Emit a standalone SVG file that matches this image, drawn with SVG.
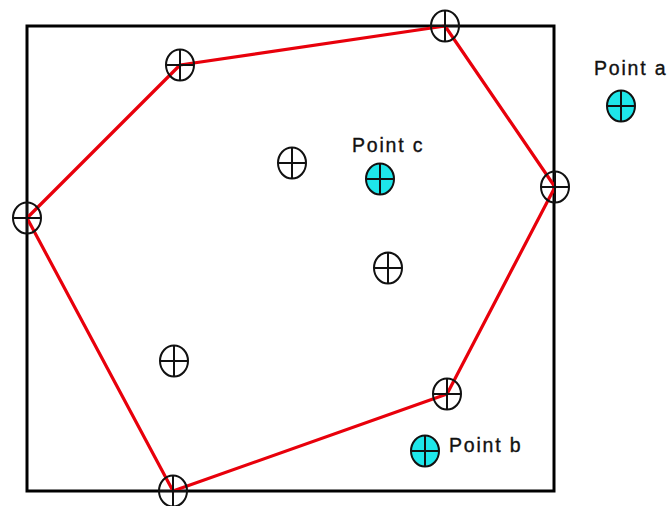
<svg xmlns="http://www.w3.org/2000/svg" width="667" height="506" viewBox="0 0 667 506">
<defs>
<style>
.frame{fill:none;stroke:#000;stroke-width:3}
.hull{fill:none;stroke:#e8000b;stroke-width:3.2;stroke-linejoin:round}
.pt{fill:none;stroke:#111;stroke-width:2}
.cy{fill:#1ee6ea;stroke:#111;stroke-width:2}
.x{stroke:#111;stroke-width:2}
.lbl{font-family:"Liberation Sans",Arial,sans-serif;font-size:19.5px;letter-spacing:1.8px;fill:#111;stroke:#111;stroke-width:0.35}
</style>
<g id="sym">
<ellipse cx="0" cy="0" rx="14" ry="15.5"/>
</g>
<g id="cross" class="x">
<line x1="-14" y1="0" x2="14" y2="0"/>
<line x1="0" y1="-15.5" x2="0" y2="15.5"/>
</g>
</defs>
<rect id="frame" class="frame" x="27" y="26" width="527" height="465"/>
<g id="connectors">
<polygon class="hull" points="180,65 445,26 555,187 447,394 173,491 27,218"/>
</g>
<g id="p1"><use href="#sym" x="180" y="65" class="pt"/><use href="#cross" x="180" y="65"/></g>
<g id="p2"><use href="#sym" x="445" y="26" class="pt"/><use href="#cross" x="445" y="26"/></g>
<g id="p3"><use href="#sym" x="555" y="187" class="pt"/><use href="#cross" x="555" y="187"/></g>
<g id="p4"><use href="#sym" x="447" y="394" class="pt"/><use href="#cross" x="447" y="394"/></g>
<g id="p5"><use href="#sym" x="173" y="491" class="pt"/><use href="#cross" x="173" y="491"/></g>
<g id="p6"><use href="#sym" x="27" y="218" class="pt"/><use href="#cross" x="27" y="218"/></g>
<g id="p7"><use href="#sym" x="292" y="163" class="pt"/><use href="#cross" x="292" y="163"/></g>
<g id="p8"><use href="#sym" x="388" y="268" class="pt"/><use href="#cross" x="388" y="268"/></g>
<g id="p9"><use href="#sym" x="174" y="361" class="pt"/><use href="#cross" x="174" y="361"/></g>
<g id="pointC"><use href="#sym" x="380" y="179" class="cy"/><use href="#cross" x="380" y="179"/><text class="lbl" x="352" y="152">Point c</text></g>
<g id="pointA"><use href="#sym" x="621" y="106" class="cy"/><use href="#cross" x="621" y="106"/><text class="lbl" x="594" y="75">Point a</text></g>
<g id="pointB"><use href="#sym" x="425" y="451" class="cy"/><use href="#cross" x="425" y="451"/><text class="lbl" x="449" y="452">Point b</text></g>
</svg>
